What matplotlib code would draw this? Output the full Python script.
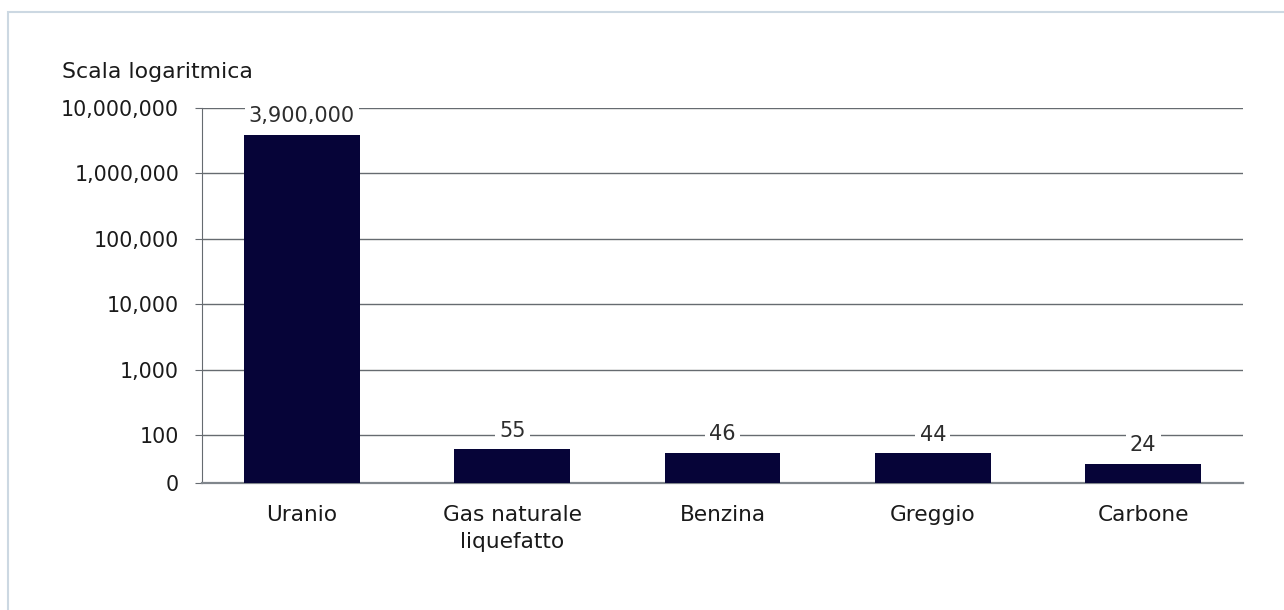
import numpy as np
import matplotlib
matplotlib.use("Agg")
import matplotlib.pyplot as plt
from matplotlib.ticker import NullLocator, FixedLocator
from matplotlib.patches import Rectangle

# data
categories = ["Uranio", "Gas naturale\nliquefatto", "Benzina", "Greggio", "Carbone"]
values = [3900000, 55, 46, 44, 24]
value_labels = ["3,900,000", "55", "46", "44", "24"]
y_ticks = [0, 100, 1000, 10000, 100000, 1000000, 10000000]

bar_color = "#060438"
grid_color = "#666b70"

# log scale above 100, compressed curve from 0 to 100
L0 = 0.734
A = 30.0


def fwd(v):
    v = np.asarray(v, float)
    hi = L0 + np.log10(np.maximum(v, 100) / 100)
    lo = L0 * np.log10(1 + np.clip(v, 0, 100) / A) / np.log10(1 + 100 / A)
    return np.where(v >= 100, hi, lo)


def inv(y):
    y = np.asarray(y, float)
    hi = 100 * 10 ** (y - L0)
    lo = A * (10 ** (np.clip(y, 0, L0) / L0 * np.log10(1 + 100 / A)) - 1)
    return np.where(y >= L0, hi, lo)


plt.rcParams["font.family"] = ["DejaVu Sans"]

fig = plt.figure(figsize=(12.84, 6.10), dpi=100)
ax = fig.add_axes([202 / 1284, 1 - 483 / 610, (1243 - 202) / 1284, (483 - 108) / 610])

x = np.arange(len(categories))
ax.bar(x, values, width=0.55, color=bar_color, zorder=3)

ax.set_yscale("function", functions=(fwd, inv))
ax.set_ylim(0, 1e7)
ax.set_xlim(-0.475, len(categories) - 1 + 0.475)
ax.yaxis.set_major_locator(FixedLocator(y_ticks))
ax.yaxis.set_minor_locator(NullLocator())
ax.set_yticklabels([f"{t:,}" for t in y_ticks])
ax.set_xticks(x)
ax.set_xticklabels(categories, linespacing=1.45)

ax.grid(axis="y", color=grid_color, lw=1.0, zorder=0)
for s in ["top", "right"]:
    ax.spines[s].set_visible(False)
ax.spines["left"].set_color(grid_color)
ax.spines["bottom"].set_color("#80868c")
ax.spines["bottom"].set_linewidth(1.6)
ax.tick_params(axis="y", length=5, color=grid_color, labelsize=14.8, pad=11.5, labelcolor="#1a1a1a")
ax.tick_params(axis="x", length=0, labelsize=15.6, pad=16, labelcolor="#1a1a1a")

for xi, v, lab in zip(x, values, value_labels):
    ax.annotate(lab, (xi, v), xytext=(0, 6), textcoords="offset points",
                ha="center", va="bottom", fontsize=15, color="#2d2d2d",
                bbox=dict(facecolor="white", edgecolor="none", pad=3), zorder=4)

fig.text(62 / 1284, 1 - 78 / 610, "Scala logaritmica", fontsize=15.8,
         va="baseline", ha="left", color="#1a1a1a")

# light frame around the chart
fig.add_artist(Rectangle((8 / 1284, -0.1), 1.2, 1 - 12 / 610 + 0.1,
                         transform=fig.transFigure, fill=False,
                         edgecolor="#ccd8e2", lw=1.5))

fig.savefig("out.png", dpi=100)
